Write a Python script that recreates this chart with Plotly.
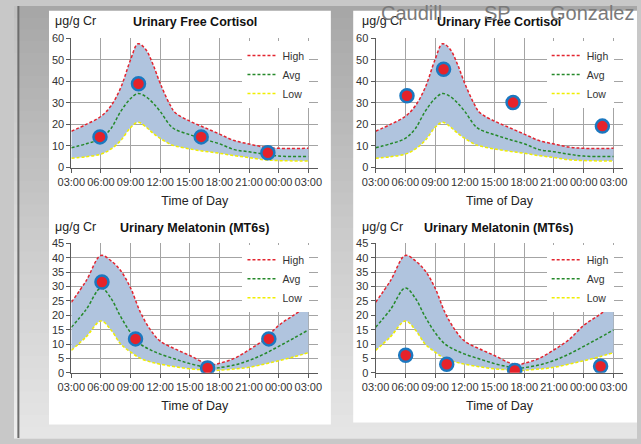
import plotly.graph_objects as go

# ---------------- data ----------------
tick_vals = [3, 6, 9, 12, 15, 18, 21, 24, 27]
tick_text = ["03:00", "06:00", "09:00", "12:00", "15:00", "18:00", "21:00", "00:00", "03:00"]

cort_hours = [3, 4.5, 6, 7, 8, 9, 9.75, 10.5, 11.25, 12, 13, 13.5, 15, 16.5, 18, 19.5, 21, 22.5, 24, 27]
cort_high = [16.8, 20, 23.7, 28.5, 37, 50, 57.4, 55, 48, 39, 29, 25.5, 21.5, 18.5, 15.5, 12.5, 10.9, 9.5, 8.9, 8.9]
cort_avg = [9.2, 11, 13.5, 18, 26, 32, 34.3, 33, 30, 26, 19.5, 17.7, 15.2, 13, 11, 8.3, 7.3, 6.2, 5.3, 5.1]
cort_low = [4.3, 5, 6.2, 8.5, 12.5, 18.5, 21, 19, 16, 13.5, 10.8, 10, 8.6, 7.5, 6.6, 5.5, 4.6, 3.6, 3.2, 3.0]

mel_hours = [3, 4.5, 6, 7, 8, 9, 10, 11, 12, 13.5, 15, 16.5, 17.5, 18, 19.5, 21, 22.5, 24, 25.5, 27]
mel_high = [24.5, 32, 40.8, 39, 35.5, 29.5, 21, 15, 11, 8.3, 6, 3.5, 2.9, 3.3, 5.0, 8.0, 11.5, 16.5, 20, 23.5]
mel_avg = [15.8, 22, 29.5, 26, 19.5, 14, 10, 8, 6.5, 4.8, 3.2, 2.0, 1.6, 1.8, 2.7, 4.3, 6.5, 9.2, 12, 14.9]
mel_low = [7.8, 12.5, 18, 15, 10, 7.2, 5, 3.8, 3.0, 2.1, 1.4, 1.0, 0.8, 0.9, 1.3, 1.9, 3.0, 4.2, 5.5, 7.0]

p1_hours = [5.9, 9.8, 16.15, 22.9]
p1_vals = [14.2, 38.8, 14.2, 6.8]
p2_hours = [6.17, 9.86, 16.87, 25.88]
p2_vals = [33.3, 45.6, 30.1, 19.2]
p3_hours = [6.1, 9.5, 16.8, 23.0]
p3_vals = [31.6, 11.8, 1.7, 11.8]
p4_hours = [6.04, 10.18, 17.04, 25.7]
p4_vals = [6.1, 3.0, 0.8, 2.3]

titles = ["Urinary Free Cortisol", "Urinary Free Cortisol",
          "Urinary Melatonin (MT6s)", "Urinary Melatonin (MT6s)"]
unit_label = "μg/g Cr"
x_title = "Time of Day"
series_names = ["High", "Avg", "Low"]
caption_words = ["Caudill", "SP", "Gonzalez"]

# ---------------- style ----------------
W, H = 641, 444
FONT = "Liberation Sans, Arial, sans-serif"
BAND = "#b0c4de"
COLORS = {"High": "#e3242f", "Avg": "#25892a", "Low": "#f0ee00"}
GRID = "#a4a4a4"
AXIS = "#5a5a5a"


def px_x(p):
    return p / W


def px_y(p):
    return 1 - p / H


fig = go.Figure()

panels = [
    dict(hours=cort_hours, high=cort_high, avg=cort_avg, low=cort_low, ph=p1_hours, pv=p1_vals,
         xd=[59, 313], yd=[33, 166], yr=[0, 60], dt=10, leg=(304, 36), title=(186, 16), unit=(40, 15)),
    dict(hours=cort_hours, high=cort_high, avg=cort_avg, low=cort_low, ph=p2_hours, pv=p2_vals,
         xd=[372, 627], yd=[33, 166], yr=[0, 60], dt=10, leg=(617, 36), title=(499, 16), unit=(356, 15)),
    dict(hours=mel_hours, high=mel_high, avg=mel_avg, low=mel_low, ph=p3_hours, pv=p3_vals,
         xd=[59, 313], yd=[244, 377], yr=[0, 45], dt=5, leg=(304, 246), title=(186, 228), unit=(40, 227)),
    dict(hours=mel_hours, high=mel_high, avg=mel_avg, low=mel_low, ph=p4_hours, pv=p4_vals,
         xd=[372, 627], yd=[244, 377], yr=[0, 45], dt=5, leg=(617, 246), title=(499, 228), unit=(356, 227)),
]

annotations = []
layout_axes = {}
layout_legends = {}

for i, p in enumerate(panels):
    n = "" if i == 0 else str(i + 1)
    xa, ya = "x" + n, "y" + n
    legname = "legend" + n
    # shaded band between Low and High
    fig.add_trace(go.Scatter(x=p["hours"], y=p["low"], mode="lines", line=dict(width=0, shape="spline"),
                             showlegend=False, hoverinfo="skip", xaxis=xa, yaxis=ya, legend=legname))
    fig.add_trace(go.Scatter(x=p["hours"], y=p["high"], mode="lines", line=dict(width=0, shape="spline"),
                             fill="tonexty", fillcolor=BAND, showlegend=False, hoverinfo="skip",
                             xaxis=xa, yaxis=ya, legend=legname))
    for name, vals in zip(series_names, [p["high"], p["avg"], p["low"]]):
        fig.add_trace(go.Scatter(x=p["hours"], y=vals, mode="lines", name=name,
                                 line=dict(color=COLORS[name], width=1.5, dash="3px,2px", shape="spline"),
                                 xaxis=xa, yaxis=ya, legend=legname))
    fig.add_trace(go.Scatter(x=p["ph"], y=p["pv"], mode="markers", showlegend=False,
                             marker=dict(size=13, color="#e5222a", line=dict(color="#1b78c0", width=2.5)),
                             xaxis=xa, yaxis=ya, legend=legname))

    layout_axes["xaxis" + n] = dict(
        domain=[px_x(p["xd"][0]), px_x(p["xd"][1])], range=[3, 28], anchor=ya,
        tickvals=tick_vals, ticktext=tick_text, tickangle=0, showgrid=True, gridcolor=GRID, gridwidth=1,
        showline=True, linecolor=AXIS, linewidth=1, ticks="outside", ticklen=4, tickcolor=AXIS,
        tickfont=dict(family=FONT, size=11, color="#333333"), zeroline=False,
        title=dict(text=x_title, font=dict(family=FONT, size=12.5, color="#222222"), standoff=9),
    )
    layout_axes["yaxis" + n] = dict(
        domain=[px_y(p["yd"][1]), px_y(p["yd"][0])], range=p["yr"], anchor=xa,
        dtick=p["dt"], tick0=0, showgrid=True, gridcolor=GRID, gridwidth=1,
        showline=True, linecolor=AXIS, linewidth=1, ticks="outside", ticklen=4, tickcolor=AXIS,
        tickfont=dict(family=FONT, size=11, color="#333333"), zeroline=False,
    )
    layout_legends[legname] = dict(
        x=px_x(p["leg"][0]), y=px_y(p["leg"][1]), xanchor="right", yanchor="top",
        bgcolor="white", borderwidth=0, itemwidth=30, traceorder="normal",
        font=dict(family=FONT, size=10.5, color="#333333"), tracegroupgap=0,
    )
    annotations.append(dict(text="<b>%s</b>" % titles[i], x=px_x(p["title"][0]), y=px_y(p["title"][1]),
                            xref="paper", yref="paper", showarrow=False, xanchor="center", yanchor="middle",
                            font=dict(family=FONT, size=12.5, color="#111111")))
    annotations.append(dict(text=unit_label, x=px_x(p["unit"][0]), y=px_y(p["unit"][1]),
                            xref="paper", yref="paper", showarrow=False, xanchor="left", yanchor="middle",
                            font=dict(family=FONT, size=12.5, color="#222222")))

for word, cx in zip(caption_words, [409, 497, 595]):
    annotations.append(dict(text=word, x=px_x(cx), y=px_y(7), xref="paper", yref="paper",
                            showarrow=False, xanchor="center", yanchor="middle",
                            font=dict(family=FONT, size=20, color="#7a7a7a")))


def gray_at(t):
    # vertical background gradient: #a6a6a6 -> #c9c9c9 -> #e6e6e6
    if t < 0.5:
        v = 0xa6 + (0xc9 - 0xa6) * (t / 0.5)
    else:
        v = 0xc9 + (0xe6 - 0xc9) * ((t - 0.5) / 0.5)
    v = int(round(v))
    return "rgb(%d,%d,%d)" % (v, v, v)


shapes = []
nb = 37
for k in range(nb):
    t0, t1 = k / nb, (k + 1) / nb
    shapes.append(dict(type="rect", xref="paper", yref="paper", x0=0, x1=1,
                       y0=1 - t1 - 0.002, y1=1 - t0, fillcolor=gray_at((t0 + t1) / 2),
                       line=dict(width=0), layer="below"))
shapes += [
    dict(type="rect", xref="paper", yref="paper", x0=0, x1=px_x(4), y0=0, y1=1,
         fillcolor="rgba(255,255,255,0.3)", line=dict(width=0), layer="below"),
    dict(type="line", xref="paper", yref="paper", x0=px_x(4.5), x1=px_x(4.5), y0=0, y1=1,
         line=dict(color="#6e6e6e", width=2), layer="below"),
    dict(type="rect", xref="paper", yref="paper", x0=px_x(36), x1=px_x(326), y0=px_y(430), y1=px_y(5),
         fillcolor="white", line=dict(width=0), layer="below"),
    dict(type="rect", xref="paper", yref="paper", x0=px_x(349), x1=1, y0=px_y(428), y1=px_y(5),
         fillcolor="white", line=dict(width=0), layer="below"),
]

fig.update_layout(
    width=W, height=H, margin=dict(l=0, r=0, t=0, b=0),
    paper_bgcolor="#c8c8c8", plot_bgcolor="white",
    shapes=shapes, annotations=annotations,
    **layout_axes, **layout_legends,
)

fig.write_html("out.html", config={"displayModeBar": False},
               post_script="document.body.style.margin='0';document.body.style.padding='0';"
                           "document.documentElement.style.overflow='hidden';")
